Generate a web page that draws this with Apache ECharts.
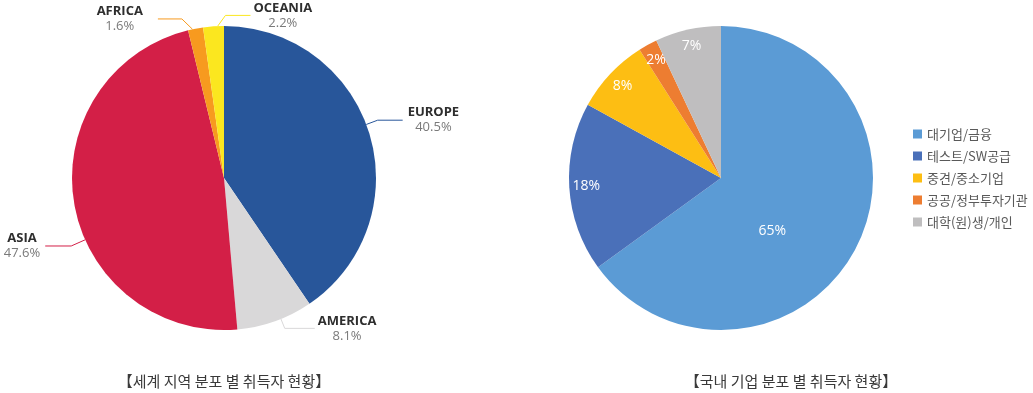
<!DOCTYPE html>
<html><head><meta charset="utf-8">
<script src="https://cdn.jsdelivr.net/npm/echarts@6/dist/echarts.min.js"></script>
<style>html,body{margin:0;padding:0;background:#fff}#c{width:1033px;height:393px}</style>
</head><body><div id="c"></div>
<script>
const worldNames = ['EUROPE', 'AMERICA', 'ASIA', 'AFRICA', 'OCEANIA'];
const worldValues = [40.5, 8.1, 47.6, 1.6, 2.2];
const worldColors = ['#28569A', '#D9D8D9', '#D31F47', '#F79A1F', '#FBE71F'];
const domesticNames = ['대기업/금융', '테스트/SW공급', '중견/중소기업', '공공/정부투자기관', '대학(원)생/개인'];
const domesticValues = [65, 18, 8, 2, 7];
const domesticColors = ['#5B9BD5', '#4A70B9', '#FDBE13', '#ED7D31', '#BFBEBF'];
const titles = ['【세계 지역 분포 별 취득자 현황】', '【국내 기업 분포 별 취득자 현황】'];

// label leader-line styling (offsets relative to the library's own label layout)
const labelDy = [-9, -6, 41, 4, 3];
const kneeOut = [-5, 5, -11, 11, 11];
const legLen = [25, 30, 26, 24, 25];
const textGap = [5, 3, 5, 15, 3];
const flipSide = [false, false, false, false, true];

const KR = '"Noto Sans CJK KR", "Noto Sans", sans-serif';
const LAT = '"Open Sans", "Noto Sans", sans-serif';
const centerL = [224, 178], centerR = [721, 178], R = 152;

const chart = echarts.init(document.getElementById('c'), null, {renderer: 'canvas'});

const total = worldValues.reduce((a, b) => a + b, 0);
function sliceRange(i) {
  let c = 0;
  for (let k = 0; k < i; k++) c += worldValues[k];
  return [c / total * 360, (c + worldValues[i]) / total * 360];
}

function worldLabelLayout(params) {
  const i = params.dataIndex;
  const pts = params.labelLinePoints;
  if (!pts) return {};
  const p0 = pts[0];
  let p1 = pts[1];
  let sx = Math.sign(pts[2][0] - pts[1][0]) || 1;
  if (flipSide[i]) { p1 = [2 * p0[0] - p1[0], p1[1]]; sx = -sx; }
  const knee = [p1[0] + sx * kneeOut[i], p1[1] + labelDy[i]];
  const end = [knee[0] + sx * legLen[i], knee[1]];
  const [a0, a1] = sliceRange(i);
  const span = a1 - a0;
  let th = Math.atan2(knee[0] - centerL[0], -(knee[1] - centerL[1])) * 180 / Math.PI;
  if (th < 0) th += 360;
  if (th < a0 - 180) th += 360;
  th = Math.min(Math.max(th, a0 + 0.3 * span), a1 - 0.3 * span);
  const rad = th * Math.PI / 180;
  const start = [centerL[0] + R * Math.sin(rad), centerL[1] - R * Math.cos(rad)];
  return {
    x: end[0] + sx * textGap[i],
    y: end[1],
    align: sx > 0 ? 'left' : 'right',
    verticalAlign: 'middle',
    labelLinePoints: [start, knee, end]
  };
}

chart.setOption({
  animation: false,
  legend: {
    orient: 'vertical',
    left: 908,
    top: 122,
    icon: 'rect',
    itemWidth: 9,
    itemHeight: 9,
    itemGap: 8,
    data: domesticNames,
    selectedMode: false,
    textStyle: {fontFamily: KR, fontSize: 13, color: '#595959', lineHeight: 14}
  },
  graphic: titles.map((t, i) => ({
    type: 'text',
    x: i === 0 ? 224 : 791,
    y: 381,
    style: {text: t, align: 'center', verticalAlign: 'middle', font: '15px ' + KR, fill: '#3A3A3A'}
  })),
  series: [
    {
      type: 'pie',
      center: centerL,
      radius: [0, R],
      startAngle: 90,
      clockwise: true,
      avoidLabelOverlap: false,
      emphasis: {disabled: true},
      itemStyle: {borderWidth: 0},
      data: worldNames.map((n, i) => ({name: n, value: worldValues[i], itemStyle: {color: worldColors[i]}})),
      label: {
        show: true,
        position: 'outside',
        formatter: p => '{n|' + p.name + '}\n{v|' + p.value + '%}',
        rich: {
          n: {fontFamily: LAT, fontWeight: 'bold', fontSize: 13, color: '#2E2E2E', align: 'center', lineHeight: 15},
          v: {fontFamily: LAT, fontSize: 13, color: '#7A7A7A', align: 'center', lineHeight: 15}
        },
        distanceToLabelLine: 5
      },
      labelLine: {show: true, length: 14, length2: 25, smooth: false, lineStyle: {width: 1}},
      labelLayout: worldLabelLayout
    },
    {
      type: 'pie',
      center: centerR,
      radius: [0, R],
      startAngle: 90,
      clockwise: true,
      emphasis: {disabled: true},
      itemStyle: {borderWidth: 0},
      data: domesticNames.map((n, i) => ({name: n, value: domesticValues[i], itemStyle: {color: domesticColors[i]},
        label: {show: i === 0}})),
      label: {position: 'inside', formatter: '{c}%', color: '#fff', fontFamily: LAT, fontSize: 14},
      labelLine: {show: false},
      labelLayout: p => (p.dataIndex === 0 ? {dx: -19, dy: 17} : {})
    },
    {
      type: 'pie',
      center: centerR,
      radius: [112, R],
      startAngle: 90,
      clockwise: true,
      silent: true,
      emphasis: {disabled: true},
      itemStyle: {color: 'rgba(0,0,0,0)', borderWidth: 0},
      data: domesticNames.map((n, i) => ({name: n, value: domesticValues[i], label: {show: i !== 0}})),
      label: {position: 'inside', formatter: '{c}%', color: '#fff', fontFamily: LAT, fontSize: 14},
      labelLine: {show: false}
    }
  ]
});
</script></body></html>
